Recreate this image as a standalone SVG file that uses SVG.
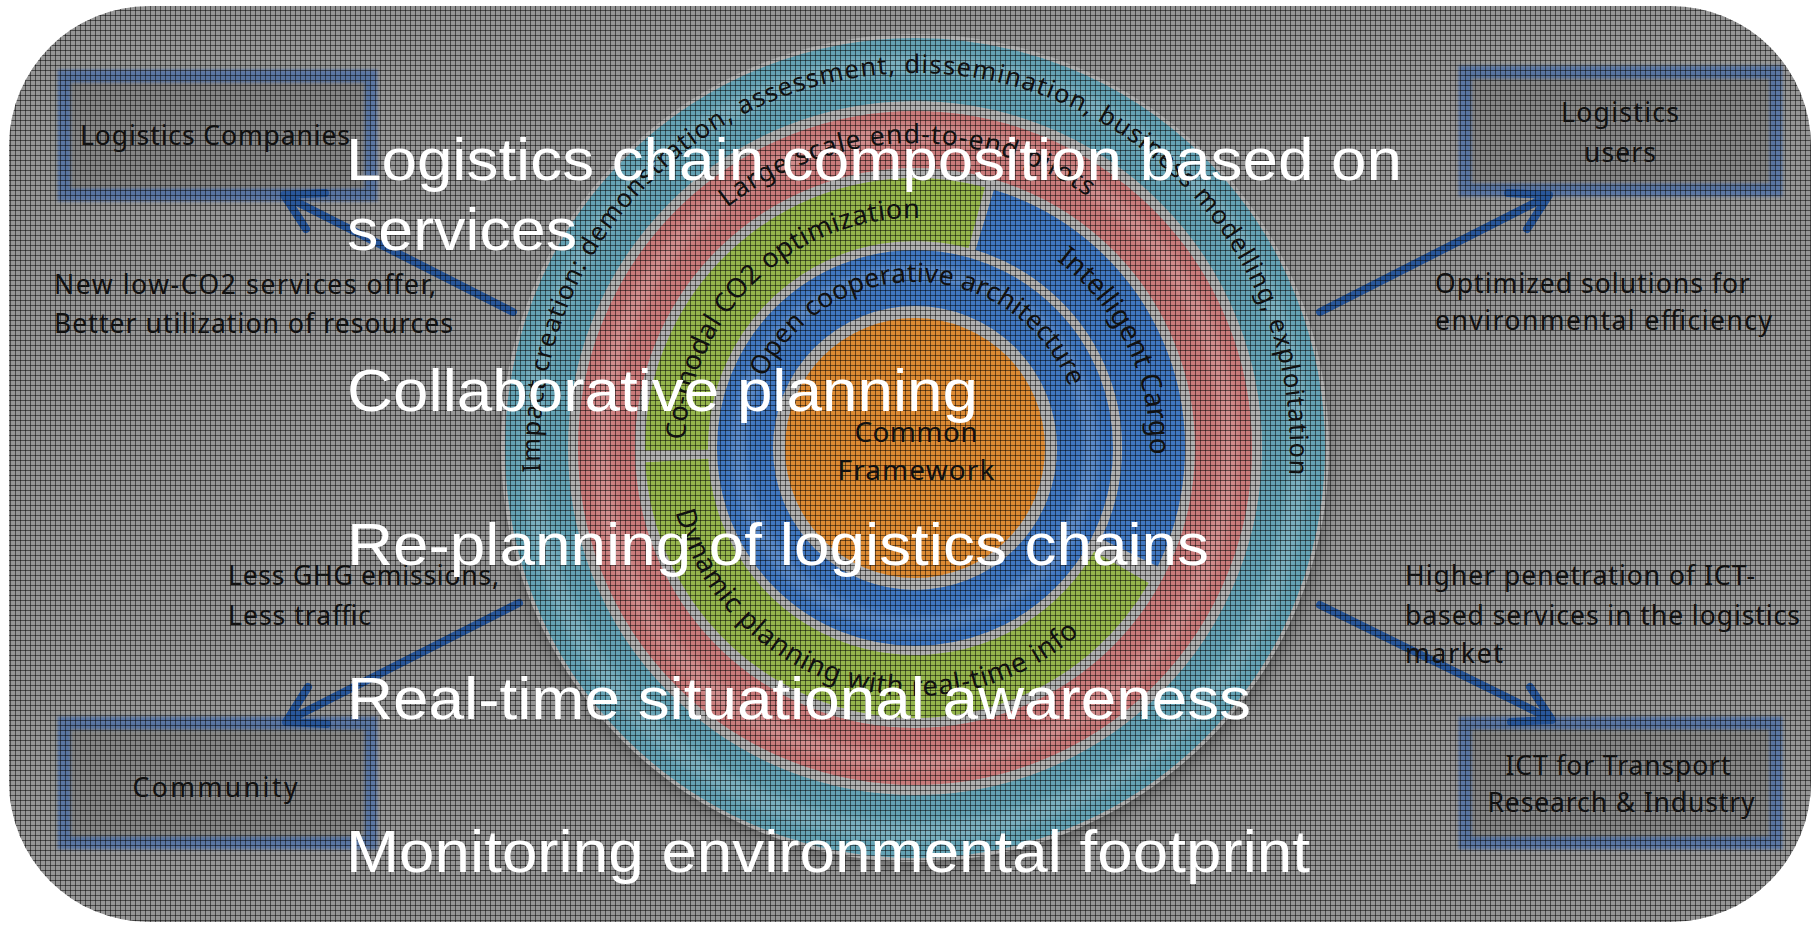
<svg xmlns="http://www.w3.org/2000/svg" width="1814" height="926" viewBox="0 0 1814 926">
<defs>
<style>
.arc{font-family:"Noto Sans","Open Sans",sans-serif;fill:#111111}
.lbl{font-family:"Noto Sans","Open Sans",sans-serif;font-size:26.5px;fill:#111111}
.big{font-family:"Liberation Sans",Arial,sans-serif;font-size:60px;fill:#ffffff}
.box{fill:#858585}
.boxb{fill:none;stroke:#4d6fa6;stroke-opacity:0.8;stroke-width:13;filter:url(#soft)}
.con{fill:none;stroke:#29579a;stroke-width:8;stroke-linecap:round;stroke-linejoin:round}
.hl{fill:none;stroke:#ffffff;stroke-opacity:0.14;filter:url(#blur3)}
</style>
<pattern id="grid" width="5" height="5" patternUnits="userSpaceOnUse">
<path d="M0 0.5H5M0.5 0V5" stroke="#000" stroke-opacity="0.5" stroke-width="1"/>
</pattern>
<filter id="soft" x="-10%" y="-20%" width="120%" height="140%"><feGaussianBlur stdDeviation="1.8"/></filter>
<filter id="blur3" x="-10%" y="-10%" width="120%" height="120%"><feGaussianBlur stdDeviation="3"/></filter>
<filter id="shadow" x="-10%" y="-10%" width="120%" height="120%"><feGaussianBlur stdDeviation="9"/></filter>
<path id="tp1" d="M540.74,471.55 A375,375 0 1 1 1288.9,476.77"/>
<path id="tp2" d="M727.2,207.7 A305,305 0 0 1 1089.9,198.2"/>
<path id="tp3" d="M685.14,439.97 A230,230 0 0 1 923.03,218.14"/>
<path id="tp4" d="M1056.4,260.3 A235,235 0 0 1 1149.86,456.2"/>
<path id="tp5" d="M675.5,512.2 A248,248 0 0 0 1080.9,632.3"/>
<path id="tp6" d="M764.6,377.8 A166,166 0 0 1 1070,388.5"/>
</defs>

<rect width="1814" height="926" fill="#ffffff"/>
<rect id="background" x="9" y="6" width="1802" height="916" rx="140" ry="140" fill="#959595"/>

<g id="rings">
<ellipse cx="915" cy="462" rx="412" ry="404" fill="#000" opacity="0.35" filter="url(#shadow)"/>
<circle cx="915" cy="448" r="414" fill="#b0b0b0"/>
<g id="ring-impact">
<circle cx="915" cy="448" r="378.5" fill="none" stroke="#64a2b4" stroke-width="63"/>
<circle class="hl" cx="915" cy="448" r="384" stroke-width="20"/>
</g>
<g id="ring-pilots">
<circle cx="915" cy="448" r="308.5" fill="none" stroke="#c97a7a" stroke-width="57"/>
<circle class="hl" cx="915" cy="448" r="314" stroke-width="18"/>
</g>
<g id="seg-comodal">
<path d="M676.5,450.1 A238.5,238.5 0 0 1 976.7,217.6" fill="none" stroke="#95b54c" stroke-width="63"/>
</g>
<g id="seg-intelligent-cargo">
<path d="M984.7,219.9 A238.5,238.5 0 0 1 1129.4,552.6" fill="none" stroke="#4077c0" stroke-width="63"/>
</g>
<g id="seg-dynamic">
<path d="M1121.5,567.3 A238.5,238.5 0 0 1 676.8,460.5" fill="none" stroke="#95b54c" stroke-width="63"/>
</g>
<g id="ring-open">
<circle cx="915" cy="448" r="170" fill="none" stroke="#4077c0" stroke-width="56"/>
<circle class="hl" cx="915" cy="448" r="176" stroke-width="16"/>
</g>
<g id="core">
<circle cx="915" cy="448" r="130" fill="#dc8a33"/>
</g>
</g>

<g id="box-logistics-companies">
<rect class="box" x="64" y="76" width="307" height="119"/>
<rect class="boxb" x="64" y="76" width="307" height="119"/>
</g>
<g id="box-logistics-users">
<rect class="box" x="1465" y="72" width="311" height="118"/>
<rect class="boxb" x="1465" y="72" width="311" height="118"/>
</g>
<g id="box-community">
<rect class="box" x="64" y="723" width="307" height="120"/>
<rect class="boxb" x="64" y="723" width="307" height="120"/>
</g>
<g id="box-ict">
<rect class="box" x="1465" y="723" width="311" height="120"/>
<rect class="boxb" x="1465" y="723" width="311" height="120"/>
</g>

<g id="connectors">
<path class="con" d="M513,312 L285,196 M325,193 L284,195 L306,229"/>
<path class="con" d="M1320,312 L1548,196 M1508,193 L1549,195 L1527,229"/>
<path class="con" d="M519,603 L287,721 M308,687 L286,722 L327,724"/>
<path class="con" d="M1320,605 L1551,719 M1530,687 L1552,720 L1511,722"/>
</g>

<rect x="9" y="6" width="1802" height="916" rx="140" ry="140" fill="url(#grid)"/>

<g id="ring-texts">
<text class="arc" font-size="25.5"><textPath href="#tp1" textLength="1228" lengthAdjust="spacing">Impact creation: demonstration, assessment, dissemination, business modelling, exploitation</textPath></text>
<text class="arc" font-size="26.5"><textPath href="#tp2" textLength="386" lengthAdjust="spacing">Large scale end-to-end pilots</textPath></text>
<text class="arc" font-size="27"><textPath href="#tp3" textLength="358" lengthAdjust="spacing">Co-modal CO2 optimization</textPath></text>
<text class="arc" font-size="28"><textPath href="#tp4" textLength="224" lengthAdjust="spacing">Intelligent Cargo</textPath></text>
<text class="arc" font-size="27.5"><textPath href="#tp5" textLength="504" lengthAdjust="spacing">Dynamic planning with real-time info</textPath></text>
<text class="arc" font-size="26.5"><textPath href="#tp6" textLength="386" lengthAdjust="spacing">Open cooperative architecture</textPath></text>
<text class="arc" font-size="28" text-anchor="middle" x="916" y="442" textLength="123">Common</text>
<text class="arc" font-size="28" text-anchor="middle" x="916" y="480" textLength="157">Framework</text>
</g>

<g id="box-texts">
<text class="lbl" x="215" y="145" text-anchor="middle" textLength="270">Logistics Companies</text>
<text class="lbl" x="1620" y="122" text-anchor="middle" textLength="118">Logistics</text>
<text class="lbl" x="1620" y="162" text-anchor="middle" textLength="72">users</text>
<text class="lbl" x="215" y="797" text-anchor="middle" textLength="165">Community</text>
<text class="lbl" x="1618" y="775" text-anchor="middle" textLength="225">ICT for Transport</text>
<text class="lbl" x="1621" y="812" text-anchor="middle" textLength="267">Research &amp; Industry</text>
</g>

<g id="connector-labels">
<text class="lbl" x="54" y="294" textLength="382">New low-CO2 services offer,</text>
<text class="lbl" x="54" y="333" textLength="399">Better utilization of resources</text>
<text class="lbl" x="1435" y="293" textLength="315">Optimized solutions for</text>
<text class="lbl" x="1435" y="330" textLength="337">environmental efficiency</text>
<text class="lbl" x="228" y="585" textLength="271">Less GHG emissions,</text>
<text class="lbl" x="228" y="625" textLength="143">Less traffic</text>
<text class="lbl" x="1405" y="585" textLength="350">Higher penetration of ICT-</text>
<text class="lbl" x="1405" y="625" textLength="395">based services in the logistics</text>
<text class="lbl" x="1405" y="663" textLength="98">market</text>
</g>

<g id="overlay-text">
<text class="big" x="346" y="180" textLength="1056" lengthAdjust="spacingAndGlyphs">Logistics chain composition based on</text>
<text class="big" x="347" y="250" textLength="230" lengthAdjust="spacingAndGlyphs">services</text>
<text class="big" x="347" y="411" textLength="631" lengthAdjust="spacingAndGlyphs">Collaborative planning</text>
<text class="big" x="347" y="565" textLength="862" lengthAdjust="spacingAndGlyphs">Re-planning of logistics chains</text>
<text class="big" x="347" y="719" textLength="904" lengthAdjust="spacingAndGlyphs">Real-time situational awareness</text>
<text class="big" x="346" y="872" textLength="964" lengthAdjust="spacingAndGlyphs">Monitoring environmental footprint</text>
</g>
</svg>
